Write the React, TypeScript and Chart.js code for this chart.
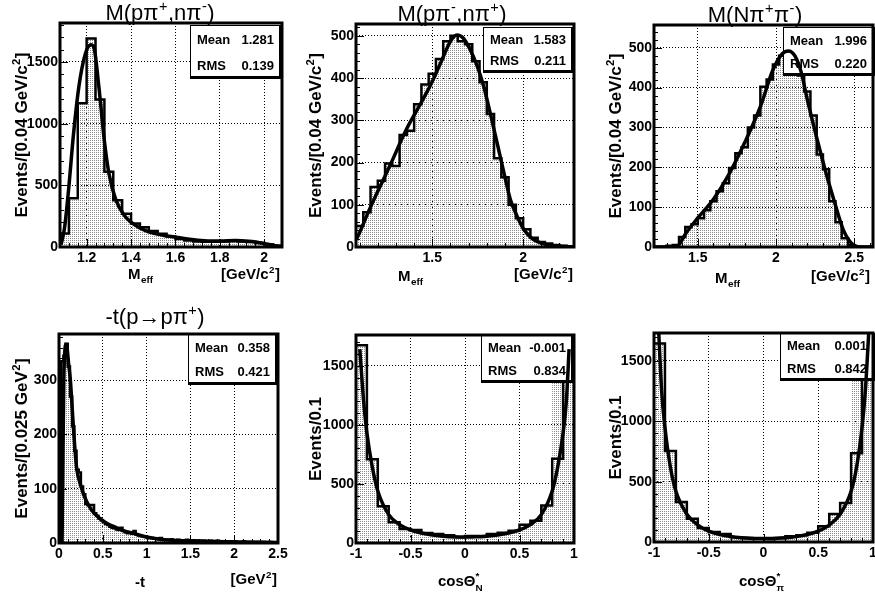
import React, { useEffect, useRef } from "react";
import { Chart, registerables } from "chart.js";
Chart.register(...registerables);

const FONT = '"Liberation Sans", Arial, Helvetica, sans-serif';

// ---------------- DATA ----------------
// Panel 1: M(p pi+, n pi-) — bins of 0.04 GeV/c^2 from 1.08
const p1BinLow = 1.08;
const p1BinWidth = 0.04;
const p1Counts = [110, 395, 1165, 1690, 1195, 610, 380, 270, 190, 160, 130, 108, 85, 65, 52, 45, 42, 42, 45, 48, 45, 40, 32, 20, 10];
const p1FitX = [1.085, 1.1, 1.12, 1.14, 1.165, 1.195, 1.22, 1.235, 1.255, 1.28, 1.3, 1.33, 1.37, 1.43, 1.5, 1.6, 1.7, 1.8, 1.87, 1.93, 2.0, 2.05, 2.08];
const p1FitY = [20, 150, 490, 900, 1300, 1570, 1640, 1600, 1300, 860, 600, 390, 255, 165, 112, 80, 55, 48, 52, 46, 28, 10, 5];
const p1XTicks = [1.2, 1.4, 1.6, 1.8, 2.0];
const p1YTicks = [0, 500, 1000, 1500];
const p1Stats = ["1.281", "0.139"];

// Panel 2: M(p pi-, n pi+) — bins of 0.04 from 1.08
const p2BinLow = 1.08;
const p2BinWidth = 0.04;
const p2Counts = [50, 82, 142, 157, 198, 192, 265, 275, 338, 385, 410, 445, 487, 500, 487, 480, 440, 390, 315, 210, 165, 100, 68, 42, 22, 12, 8, 5, 3, 1];
const p2FitX = [1.08, 1.09, 1.15, 1.2, 1.265, 1.357, 1.43, 1.5, 1.55, 1.6, 1.635, 1.67, 1.709, 1.75, 1.783, 1.82, 1.857, 1.9, 1.93, 1.97, 2.005, 2.05, 2.1, 2.15, 2.2, 2.28];
const p2FitY = [18, 25, 85, 132, 191, 278, 335, 392, 440, 487, 502, 495, 467, 425, 380, 315, 246, 165, 112, 70, 41, 20, 9, 4, 1.5, 0];
const p2XTicks = [1.5, 2.0];
const p2YTicks = [0, 100, 200, 300, 400, 500];
const p2Stats = ["1.583", "0.211"];

// Panel 3: M(N pi+ pi-) — bins of 0.04 from 1.22
const p3BinLow = 1.22;
const p3BinWidth = 0.04;
const p3Counts = [0, 0, 3, 5, 25, 50, 57, 72, 92, 115, 140, 160, 198, 235, 250, 300, 330, 402, 420, 458, 480, 485, 470, 430, 390, 330, 232, 195, 115, 62, 22, 5, 0, 0, 0];
const p3FitX = [1.22, 1.34, 1.38, 1.42, 1.5, 1.6, 1.7, 1.8, 1.9, 1.98, 2.04, 2.08, 2.12, 2.16, 2.2, 2.24, 2.28, 2.32, 2.37, 2.43, 2.47, 2.5, 2.55, 2.62];
const p3FitY = [0, 0, 6, 32, 73, 120, 183, 262, 352, 444, 485, 492, 480, 440, 370, 305, 244, 185, 118, 43, 15, 4, 0, 0];
const p3XTicks = [1.5, 2.0, 2.5];
const p3YTicks = [0, 100, 200, 300, 400, 500];
const p3Stats = ["1.996", "0.220"];

// Panel 4: -t(p -> p pi+) — bins of 0.025 GeV^2 from 0
const p4BinLow = 0;
const p4BinWidth = 0.025;
const p4Counts = [
  0, 335, 345, 367, 325, 270, 215, 170, 135, 130,
  104, 90, 72, 70, 70, 70, 55, 50, 45, 42,
  38, 35, 33, 30, 28, 27, 25, 24, 28, 22,
  20, 18, 19, 17, 22, 16, 14, 13, 12, 11,
  10, 9, 9, 8, 8, 7, 9, 7, 6, 6,
  6, 7, 5, 5, 6, 5, 4, 5, 6, 5,
  4, 5, 4, 4, 3, 4, 4, 3, 3, 4,
  3, 3, 4, 3, 2, 3, 3, 2, 3, 2,
  3, 2, 2, 2, 3, 2, 2, 2, 1, 2,
  2, 1, 2, 2, 1, 1, 2, 1, 1, 1,
];
const p4FitX = [0.035, 0.045, 0.055, 0.065, 0.08, 0.095, 0.11, 0.13, 0.15, 0.17, 0.2, 0.25, 0.3, 0.35, 0.4, 0.47, 0.55, 0.66, 0.75, 0.85, 1.0, 1.2, 1.5, 2.0, 2.5];
const p4FitY = [0, 160, 300, 350, 366, 355, 330, 300, 250, 200, 140, 105, 82, 66, 55, 45, 36, 28, 22, 18, 11, 6, 4, 2, 1];
const p4XTicks = [0, 0.5, 1.0, 1.5, 2.0, 2.5];
const p4YTicks = [0, 100, 200, 300];
const p4Stats = ["0.358", "0.421"];

// Panel 5: cos Theta*_N — bins of 0.1 from -1
const p5BinLow = -1;
const p5BinWidth = 0.1;
const p5Counts = [1674, 709, 310, 175, 118, 110, 84, 76, 65, 48, 59, 59, 76, 87, 104, 155, 189, 318, 712, 1620];
const p5FillCounts = [1674, 709, 310, 175, 118, 110, 84, 76, 65, 48, 59, 59, 76, 87, 104, 155, 189, 318, 1450, 1620];
const p5FitX = [-0.965, -0.93, -0.9, -0.85, -0.8, -0.7, -0.6, -0.5, -0.4, -0.3, -0.2, -0.1, 0, 0.1, 0.2, 0.3, 0.4, 0.5, 0.6, 0.7, 0.8, 0.85, 0.9, 0.93, 0.955];
const p5FitY = [1640, 1200, 930, 640, 440, 240, 155, 110, 85, 68, 58, 52, 50, 52, 58, 68, 85, 110, 155, 240, 440, 640, 930, 1200, 1640];
const p5XTicks = [-1, -0.5, 0, 0.5, 1];
const p5YTicks = [0, 500, 1000, 1500];
const p5Stats = ["-0.001", "0.834"];

// Panel 6: cos Theta*_pi — bins of 0.1 from -1
const p6BinLow = -1;
const p6BinWidth = 0.1;
const p6Counts = [1646, 755, 331, 193, 116, 83, 66, 39, 33, 28, 25, 33, 47, 55, 77, 130, 232, 323, 736, 1700];
const p6FillCounts = [1646, 755, 331, 193, 116, 83, 66, 39, 33, 28, 25, 33, 47, 55, 77, 130, 232, 323, 1450, 1700];
const p6FitX = [-0.96, -0.93, -0.9, -0.85, -0.8, -0.7, -0.6, -0.5, -0.4, -0.3, -0.2, -0.1, 0, 0.1, 0.2, 0.3, 0.4, 0.5, 0.6, 0.7, 0.8, 0.85, 0.9, 0.93, 0.965];
const p6FitY = [1800, 1250, 950, 620, 420, 230, 140, 90, 62, 45, 35, 30, 28, 30, 35, 45, 62, 90, 140, 230, 420, 620, 950, 1250, 1800];
const p6XTicks = [-1, -0.5, 0, 0.5, 1];
const p6YTicks = [0, 500, 1000, 1500];
const p6Stats = ["0.001", "0.842"];

// ---------------- TEXT RUNS ----------------
type Run = { t: string; k?: "sup" | "sub" | "subsup"; s?: string };

const t1: Run[] = [{ t: "M(pπ" }, { t: "+", k: "sup" }, { t: ",nπ" }, { t: "-", k: "sup" }, { t: ")" }];
const t2: Run[] = [{ t: "M(pπ" }, { t: "-", k: "sup" }, { t: ",nπ" }, { t: "+", k: "sup" }, { t: ")" }];
const t3: Run[] = [{ t: "M(Nπ" }, { t: "+", k: "sup" }, { t: "π" }, { t: "-", k: "sup" }, { t: ")" }];
const t4: Run[] = [{ t: "-t(p" }, { t: "→" }, { t: "pπ" }, { t: "+", k: "sup" }, { t: ")" }];
const yMass: Run[] = [{ t: "Events/[0.04 GeV/c" }, { t: "2", k: "sup" }, { t: "]" }];
const yT: Run[] = [{ t: "Events/[0.025 GeV" }, { t: "2", k: "sup" }, { t: "]" }];
const yCos: Run[] = [{ t: "Events/0.1" }];
const xMeff: Run[] = [{ t: "M" }, { t: "eff", k: "sub" }];
const xMassUnit: Run[] = [{ t: "[GeV/c" }, { t: "2", k: "sup" }, { t: "]" }];
const xT: Run[] = [{ t: "-t" }];
const xTUnit: Run[] = [{ t: "[GeV" }, { t: "2", k: "sup" }, { t: "]" }];
const xCosN: Run[] = [{ t: "cosΘ" }, { t: "N", k: "subsup", s: "*" }];
const xCosPi: Run[] = [{ t: "cosΘ" }, { t: "π", k: "subsup", s: "*" }];

interface PanelCfg {
  left: number; top: number; w: number; h: number;
  area: [number, number, number, number];
  xMin: number; xMax: number; yMax: number;
  xTicks: number[]; yTicks: number[]; xMinor: number; yMinor: number;
  binLow: number; binWidth: number; counts: number[]; fill: number[];
  fitX: number[]; fitY: number[];
  title?: Run[]; titleX?: number; titleY?: number;
  yTitle: Run[]; yTitleX: number;
  xMain: Run[]; xMainX: number; xMainY: number;
  xUnit?: Run[]; xUnitR?: number; xUnitY?: number;
  stats: string[]; box: [number, number, number, number];
}

const PANELS: PanelCfg[] = [
  {
    left: 0, top: 0, w: 290, h: 295, area: [60, 23, 282, 247],
    xMin: 1.08, xMax: 2.08, yMax: 1816, xTicks: p1XTicks, yTicks: p1YTicks, xMinor: 0.04, yMinor: 100,
    binLow: p1BinLow, binWidth: p1BinWidth, counts: p1Counts, fill: p1Counts, fitX: p1FitX, fitY: p1FitY,
    title: t1, titleX: 160, titleY: 20, yTitle: yMass, yTitleX: 27,
    xMain: xMeff, xMainX: 128, xMainY: 279, xUnit: xMassUnit, xUnitR: 280, xUnitY: 279,
    stats: p1Stats, box: [190, 25, 92, 54],
  },
  {
    left: 290, top: 0, w: 290, h: 295, area: [66, 24, 284, 247],
    xMin: 1.08, xMax: 2.28, yMax: 528, xTicks: p2XTicks, yTicks: p2YTicks, xMinor: 0.1, yMinor: 20,
    binLow: p2BinLow, binWidth: p2BinWidth, counts: p2Counts, fill: p2Counts, fitX: p2FitX, fitY: p2FitY,
    title: t2, titleX: 162, titleY: 21, yTitle: yMass, yTitleX: 31,
    xMain: xMeff, xMainX: 108, xMainY: 281, xUnit: xMassUnit, xUnitR: 283, xUnitY: 279,
    stats: p2Stats, box: [193, 27, 91, 46],
  },
  {
    left: 580, top: 0, w: 295, h: 295, area: [74, 25, 293, 247],
    xMin: 1.22, xMax: 2.62, yMax: 557, xTicks: p3XTicks, yTicks: p3YTicks, xMinor: 0.1, yMinor: 20,
    binLow: p3BinLow, binWidth: p3BinWidth, counts: p3Counts, fill: p3Counts, fitX: p3FitX, fitY: p3FitY,
    title: t3, titleX: 175, titleY: 22, yTitle: yMass, yTitleX: 41,
    xMain: xMeff, xMainX: 135, xMainY: 283, xUnit: xMassUnit, xUnitR: 290, xUnitY: 281,
    stats: p3Stats, box: [203, 27, 92, 49],
  },
  {
    left: 0, top: 295, w: 290, h: 304, area: [59, 39, 278, 248],
    xMin: 0, xMax: 2.5, yMax: 385, xTicks: p4XTicks, yTicks: p4YTicks, xMinor: 0.1, yMinor: 20,
    binLow: p4BinLow, binWidth: p4BinWidth, counts: p4Counts, fill: p4Counts, fitX: p4FitX, fitY: p4FitY,
    title: t4, titleX: 155, titleY: 29, yTitle: yT, yTitleX: 27,
    xMain: xT, xMainX: 135, xMainY: 292, xUnit: xTUnit, xUnitR: 277, xUnitY: 289,
    stats: p4Stats, box: [188, 39, 90, 51],
  },
  {
    left: 290, top: 295, w: 290, h: 304, area: [66, 40, 284, 248],
    xMin: -1, xMax: 1, yMax: 1760, xTicks: p5XTicks, yTicks: p5YTicks, xMinor: 0.1, yMinor: 100,
    binLow: p5BinLow, binWidth: p5BinWidth, counts: p5Counts, fill: p5FillCounts, fitX: p5FitX, fitY: p5FitY,
    yTitle: yCos, yTitleX: 31,
    xMain: xCosN, xMainX: 148, xMainY: 291,
    stats: p5Stats, box: [191, 40, 93, 48],
  },
  {
    left: 580, top: 295, w: 295, h: 304, area: [74, 38, 293, 247],
    xMin: -1, xMax: 1, yMax: 1732, xTicks: p6XTicks, yTicks: p6YTicks, xMinor: 0.1, yMinor: 100,
    binLow: p6BinLow, binWidth: p6BinWidth, counts: p6Counts, fill: p6FillCounts, fitX: p6FitX, fitY: p6FitY,
    yTitle: yCos, yTitleX: 41,
    xMain: xCosPi, xMainX: 159, xMainY: 291,
    stats: p6Stats, box: [200, 38, 95, 48],
  },
];

// ---------------- helpers ----------------
function drawRuns(
  ctx: CanvasRenderingContext2D, runs: Run[], x: number, y: number,
  size: number, weight: string, align: "left" | "center" | "right"
) {
  const small = size * 0.66;
  const big = `${weight} ${size}px ${FONT}`;
  const sm = `${weight} ${small}px ${FONT}`;
  const widths = runs.map((r) => {
    if (!r.k) { ctx.font = big; return ctx.measureText(r.t).width; }
    ctx.font = sm;
    if (r.k === "subsup") return Math.max(ctx.measureText(r.t).width, ctx.measureText(r.s || "").width);
    return ctx.measureText(r.t).width + 1;
  });
  const total = widths.reduce((a, b) => a + b, 0);
  let cx = align === "center" ? x - total / 2 : align === "right" ? x - total : x;
  ctx.textAlign = "left";
  ctx.textBaseline = "alphabetic";
  runs.forEach((r, i) => {
    if (!r.k) { ctx.font = big; ctx.fillText(r.t, cx, y); }
    else {
      ctx.font = sm;
      if (r.k === "sup") ctx.fillText(r.t, cx + 0.5, y - size * 0.42);
      else if (r.k === "sub") ctx.fillText(r.t, cx + 0.5, y + size * 0.25);
      else { ctx.fillText(r.s || "", cx, y - size * 0.45); ctx.fillText(r.t, cx, y + size * 0.3); }
    }
    cx += widths[i];
  });
}

function makePattern(ctx: CanvasRenderingContext2D): CanvasPattern | string {
  const c = document.createElement("canvas");
  c.width = 2; c.height = 2;
  const g = c.getContext("2d");
  if (!g) return "#ddd";
  g.fillStyle = "#8a8a8a";
  g.fillRect(0, 0, 1, 1);
  return ctx.createPattern(c, "repeat") || "#ddd";
}

function fmt(v: number) {
  return String(Number(v.toFixed(3)));
}

function histPoints(low: number, width: number, vals: number[]) {
  const pts = vals.map((v, i) => ({ x: low + i * width, y: v }));
  pts.push({ x: low + vals.length * width, y: vals[vals.length - 1] });
  return pts;
}

function Panel({ cfg }: { cfg: PanelCfg }) {
  const ref = useRef<HTMLCanvasElement>(null);
  useEffect(() => {
    const canvas = ref.current;
    if (!canvas) return;
    const ctx0 = canvas.getContext("2d");
    if (!ctx0) return;
    const pat = makePattern(ctx0);
    const [L, T, R, B] = cfg.area;

    const rootPlugin = {
      id: "rootStyle",
      beforeDatasetDraw(chart: any, args: any) {
        if (args.index !== 2) return;
        const c = chart.ctx as CanvasRenderingContext2D;
        const [bl, bt, bw, bh] = cfg.box;
        c.save();
        c.fillStyle = "#000";
        c.fillRect(bl, bt, bw, bh);
        c.fillStyle = "#fff";
        c.fillRect(bl + 1, bt + 1, bw - 4, bh - 4);
        c.fillStyle = "#000";
        c.font = `bold 13px ${FONT}`;
        c.textBaseline = "alphabetic";
        c.textAlign = "left";
        c.fillText("Mean", bl + 7, bt + bh * 0.36);
        c.fillText("RMS", bl + 7, bt + bh * 0.83);
        c.textAlign = "right";
        c.fillText(cfg.stats[0], bl + bw - 8, bt + bh * 0.36);
        c.fillText(cfg.stats[1], bl + bw - 8, bt + bh * 0.83);
        c.restore();
      },
      afterDraw(chart: any) {
        const c = chart.ctx as CanvasRenderingContext2D;
        const xs = chart.scales.x;
        const ys = chart.scales.y;
        const a = chart.chartArea;
        c.save();
        // inner tick marks
        c.strokeStyle = "#000";
        c.lineWidth = 1;
        c.beginPath();
        const nY = Math.floor(cfg.yMax / cfg.yMinor + 1e-6);
        for (let i = 0; i <= nY; i++) {
          const v = i * cfg.yMinor;
          const isMajor = cfg.yTicks.some((t) => Math.abs(t - v) < 1e-6);
          const py = Math.round(ys.getPixelForValue(v)) + 0.5;
          c.moveTo(a.left, py);
          c.lineTo(a.left + (isMajor ? 8 : 4), py);
        }
        const x0 = Math.ceil(cfg.xMin / cfg.xMinor - 1e-6);
        const x1 = Math.floor(cfg.xMax / cfg.xMinor + 1e-6);
        for (let i = x0; i <= x1; i++) {
          const v = i * cfg.xMinor;
          const isMajor = cfg.xTicks.some((t) => Math.abs(t - v) < 1e-6);
          const px = Math.round(xs.getPixelForValue(v)) + 0.5;
          c.moveTo(px, a.bottom);
          c.lineTo(px, a.bottom - (isMajor ? 8 : 4));
        }
        c.stroke();
        // frame
        c.lineWidth = 3;
        c.strokeRect(a.left, a.top, a.right - a.left, a.bottom - a.top);
        c.fillStyle = "#000";
        // title
        if (cfg.title) drawRuns(c, cfg.title, cfg.titleX || 0, cfg.titleY || 0, 22, "normal", "center");
        // y title (rotated)
        c.save();
        c.translate(cfg.yTitleX, (a.top + a.bottom) / 2);
        c.rotate(-Math.PI / 2);
        drawRuns(c, cfg.yTitle, 0, 0, 17, "bold", "center");
        c.restore();
        // x titles
        drawRuns(c, cfg.xMain, cfg.xMainX, cfg.xMainY, 15, "bold", "left");
        if (cfg.xUnit) drawRuns(c, cfg.xUnit, cfg.xUnitR || 0, cfg.xUnitY || 0, 15, "bold", "right");
        c.restore();
      },
    };

    const tickFont = { family: FONT, size: 14, weight: "bold" as const };
    const chart = new Chart(canvas, {
      type: "line",
      data: {
        datasets: [
          {
            data: histPoints(cfg.binLow, cfg.binWidth, cfg.fill),
            stepped: "before",
            fill: "origin",
            backgroundColor: pat as any,
            borderColor: "rgba(0,0,0,0)",
            borderWidth: 1,
            pointRadius: 0,
            order: 3,
          },
          {
            data: histPoints(cfg.binLow, cfg.binWidth, cfg.counts),
            stepped: "before",
            fill: false,
            borderColor: "#000",
            borderWidth: 2.5,
            pointRadius: 0,
            order: 2,
          },
          {
            data: cfg.fitX.map((x, i) => ({ x, y: cfg.fitY[i] })),
            fill: false,
            borderColor: "#000",
            borderWidth: 3.5,
            pointRadius: 0,
            cubicInterpolationMode: "monotone",
            order: 1,
          },
        ],
      } as any,
      options: {
        responsive: false,
        animation: false,
        devicePixelRatio: 1,
        events: [],
        layout: { padding: { left: 0, top: T, right: cfg.w - R, bottom: 0 } },
        plugins: {
          legend: { display: false },
          tooltip: { enabled: false },
          title: { display: false },
        },
        scales: {
          x: {
            type: "linear",
            min: cfg.xMin,
            max: cfg.xMax,
            afterBuildTicks: (s: any) => { s.ticks = cfg.xTicks.map((v) => ({ value: v })); },
            afterFit: (s: any) => { s.height = cfg.h - B; s.paddingLeft = 0; s.paddingRight = 0; },
            ticks: {
              font: tickFont, color: "#000", padding: 3, maxRotation: 0, minRotation: 0, autoSkip: false,
              callback: (v: any) => fmt(Number(v)),
            },
            grid: { color: "#000", lineWidth: 1, drawTicks: false },
            border: { display: false, dash: [1, 2] },
          },
          y: {
            type: "linear",
            min: 0,
            max: cfg.yMax,
            afterBuildTicks: (s: any) => { s.ticks = cfg.yTicks.map((v) => ({ value: v })); },
            afterFit: (s: any) => { s.width = L; s.paddingTop = 0; s.paddingBottom = 0; },
            ticks: {
              font: tickFont, color: "#000", padding: 2, autoSkip: false,
              callback: (v: any) => fmt(Number(v)),
            },
            grid: { color: "#000", lineWidth: 1, drawTicks: false },
            border: { display: false, dash: [1, 2] },
          },
        },
      } as any,
      plugins: [rootPlugin as any],
    });
    return () => chart.destroy();
  }, [cfg]);
  return (
    <canvas
      ref={ref}
      width={cfg.w}
      height={cfg.h}
      style={{ position: "absolute", left: cfg.left, top: cfg.top, width: cfg.w, height: cfg.h, display: "block" }}
    />
  );
}

export default function App() {
  return (
    <div style={{ position: "absolute", left: 0, top: 0, width: 875, height: 599, background: "#fff", overflow: "hidden" }}>
      {PANELS.map((p, i) => (
        <Panel key={i} cfg={p} />
      ))}
    </div>
  );
}
